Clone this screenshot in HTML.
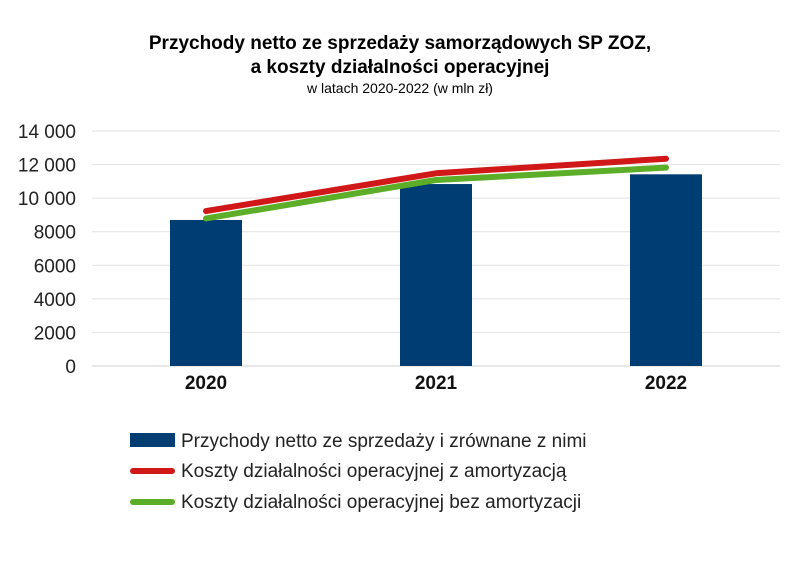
<!DOCTYPE html>
<html><head><meta charset="utf-8"><style>
body{margin:0;background:#fff;font-family:"Liberation Sans",sans-serif}
</style></head><body>
<svg width="800" height="562" xmlns="http://www.w3.org/2000/svg">
<text x="400" y="49" text-anchor="middle" font-size="19" font-weight="bold" fill="#000">Przychody netto ze sprzedaży samorządowych SP ZOZ,</text>
<text x="400" y="73" text-anchor="middle" font-size="19" font-weight="bold" fill="#000">a koszty działalności operacyjnej</text>
<text x="400" y="93" text-anchor="middle" font-size="14" fill="#000">w latach 2020-2022 (w mln zł)</text>
<g id="grid"></g><g id="bars"></g><g id="lines"></g><g id="axes"></g>
<g>
<rect x="130" y="433" width="45" height="14" fill="#003d73"/>
<text x="181" y="447" font-size="19" fill="#222">Przychody netto ze sprzedaży i zrównane z nimi</text>
<line x1="133" y1="471" x2="172" y2="471" stroke="#d01818" stroke-width="6" stroke-linecap="round"/>
<text x="181" y="477" font-size="19" fill="#222">Koszty działalności operacyjnej z amortyzacją</text>
<line x1="133" y1="502" x2="172" y2="502" stroke="#5cad28" stroke-width="6" stroke-linecap="round"/>
<text x="181" y="508" font-size="19" fill="#222">Koszty działalności operacyjnej bez amortyzacji</text>
</g>
</svg>
<script>
const categories=["2020","2021","2022"];
const revenue=[8700,10840,11420];
const costsWith=[9230,11480,12350];
const costsWithout=[8790,11080,11820];
const yTicks=[0,2000,4000,6000,8000,10000,12000,14000];
const yTickLabels=["0","2000","4000","6000","8000","10 000","12 000","14 000"];
const NS="http://www.w3.org/2000/svg";
const y0=366,yTop=131,yMax=14000;
const y=v=>y0-(y0-yTop)*v/yMax;
const x=i=>206+i*230;
function mk(tag,attrs,parent){const e=document.createElementNS(NS,tag);for(const k in attrs)e.setAttribute(k,attrs[k]);document.getElementById(parent).appendChild(e);return e;}
yTicks.forEach((t,i)=>{
 const g=mk('line',{x1:92,x2:780,y1:y(t),y2:y(t),stroke:i==0?'#d0d0d0':'#e2e2e2','stroke-width':1},'grid');
 
 
 const l=mk('text',{x:76,y:y(t)+7,'text-anchor':'end','font-size':19,fill:'#222'},'axes');
 l.textContent=yTickLabels[i];
 
 
});
categories.forEach((c,i)=>{
 const b=mk('rect',{x:x(i)-36,y:y(revenue[i]),width:72,height:y0-y(revenue[i]),fill:'#003d73'},'bars');
 
 
 const l=mk('text',{x:x(i),y:389,'text-anchor':'middle','font-size':19,'font-weight':'bold',fill:'#111'},'axes');
 l.textContent=c;
 
 
});
[[costsWith,'#d01818','line-costs-with'],[costsWithout,'#5cad28','line-costs-without']].forEach(([d,col,n])=>{
 const p=mk('polyline',{points:d.map((v,i)=>x(i)+','+y(v)).join(' '),fill:'none',stroke:col,'stroke-width':6,'stroke-linecap':'round','stroke-linejoin':'round'},'lines');
 
 
});
</script>
</body></html>
